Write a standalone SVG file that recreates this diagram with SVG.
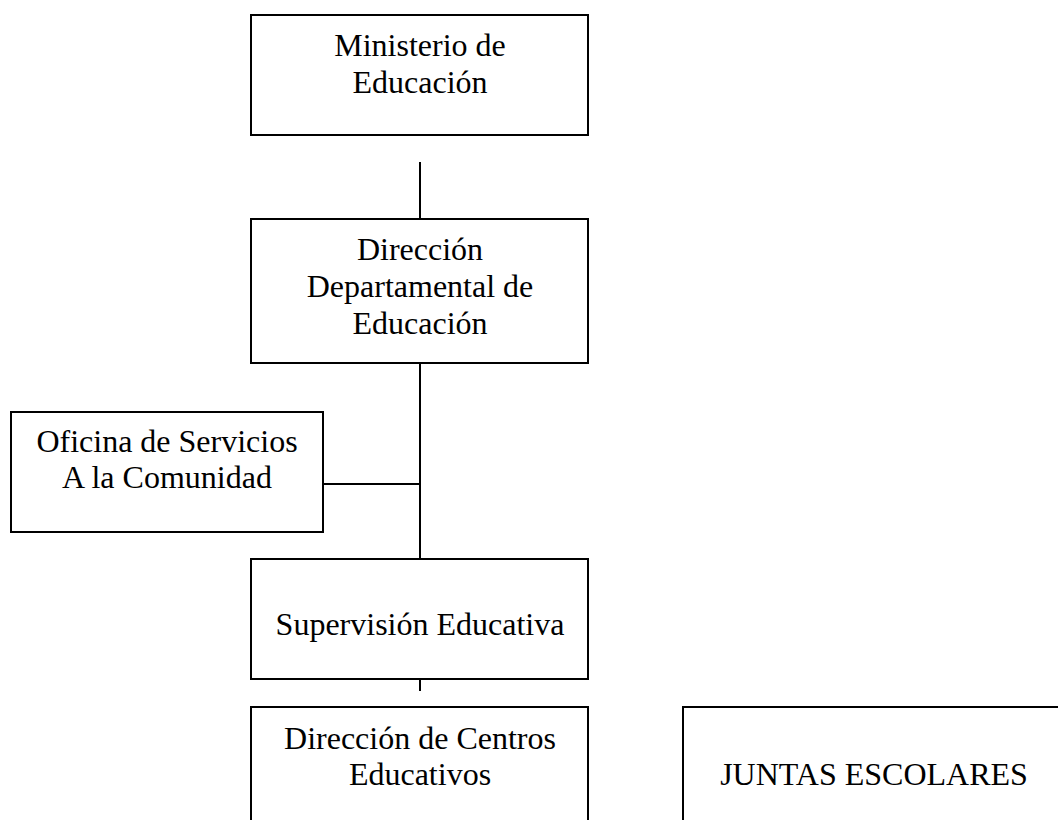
<svg xmlns="http://www.w3.org/2000/svg" width="1058" height="820" viewBox="0 0 1058 820">
<style>
.box{fill:#fff;stroke:#000;stroke-width:2}
.ln{stroke:#000;stroke-width:2;fill:none}
text{font-family:"Liberation Serif","Times New Roman",serif;font-size:32px;fill:#000;text-anchor:middle}
</style>
<rect width="1058" height="820" fill="#fff"/>
<g id="connectors">
<line class="ln" x1="420" y1="162" x2="420" y2="219"/>
<line class="ln" x1="420" y1="363" x2="420" y2="559"/>
<line class="ln" x1="323" y1="484" x2="420" y2="484"/>
<line class="ln" x1="420" y1="679" x2="420" y2="691"/>
</g>
<g id="ministerio">
<rect class="box" x="251" y="15" width="337" height="120"/>
<text x="420" y="56">Ministerio de</text>
<text x="420" y="93">Educación</text>
</g>
<g id="direccion-departamental">
<rect class="box" x="251" y="219" width="337" height="144"/>
<text x="420" y="260">Dirección</text>
<text x="420" y="297">Departamental de</text>
<text x="420" y="334">Educación</text>
</g>
<g id="oficina">
<rect class="box" x="11" y="412" width="312" height="120"/>
<text x="167" y="452">Oficina de Servicios</text>
<text x="167" y="488">A la Comunidad</text>
</g>
<g id="supervision">
<rect class="box" x="251" y="559" width="337" height="120"/>
<text x="420" y="635">Supervisión Educativa</text>
</g>
<g id="direccion-centros">
<rect class="box" x="251" y="707" width="337" height="140"/>
<text x="420" y="749">Dirección de Centros</text>
<text x="420" y="785">Educativos</text>
</g>
<g id="juntas">
<rect class="box" x="683" y="707" width="383" height="140"/>
<text x="874" y="785">JUNTAS ESCOLARES</text>
</g>
</svg>
